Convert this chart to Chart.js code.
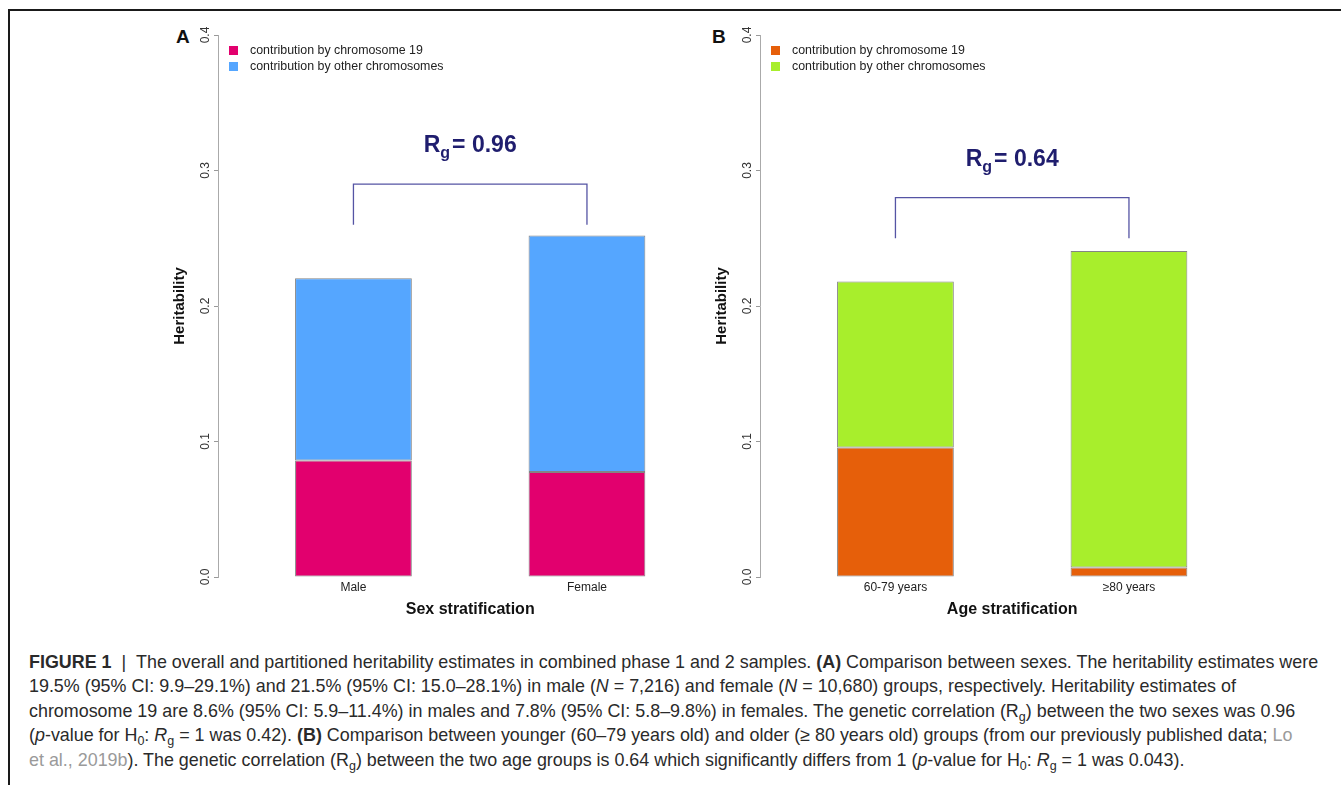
<!DOCTYPE html>
<html>
<head>
<meta charset="utf-8">
<script src="https://cdn.jsdelivr.net/npm/chart.js@4.4.0/dist/chart.umd.min.js"></script>
<style>
  body { margin: 0; background: #fff; width: 1341px; height: 785px; overflow: hidden; position: relative;
         font-family: "Liberation Sans", Arial, sans-serif; }
  #frame { position: absolute; left: 8px; top: 9px; width: 1400px; height: 800px;
           border-left: 2px solid #1a1a1a; border-top: 2px solid #1a1a1a; }
  .panel { position: absolute; top: 20px; width: 580px; height: 610px; }
  #panelA { left: 150px; }
  #panelB { left: 692px; }
  .tag { position: absolute; top: 26px; font-weight: bold; font-size: 19px; color: #111; }
  .legend { position: absolute; top: 42px; font-size: 12.4px; color: #222; line-height: 16px; }
  .legend .box { display: inline-block; width: 9px; height: 9px; margin-right: 12px; vertical-align: -1px; }
  #caption { position: absolute; left: 29px; top: 650px; font-size: 17.9px; line-height: 24.4px;
             color: #2a2a2a; white-space: nowrap; }
  #caption sub { font-size: 0.7em; line-height: 0; vertical-align: -0.3em; }
  #caption .ref { color: #9a9a9a; }
</style>
</head>
<body>
<div id="frame"></div>

<div class="tag" style="left:176px">A</div>
<div class="tag" style="left:712px">B</div>

<div class="panel" id="panelA"><canvas id="chartA"></canvas></div>
<div class="panel" id="panelB"><canvas id="chartB"></canvas></div>

<div class="legend" style="left:229px">
  <div><span class="box" style="background:#e2006e"></span>contribution by chromosome 19</div>
  <div><span class="box" style="background:#55a6ff"></span>contribution by other chromosomes</div>
</div>
<div class="legend" style="left:771px">
  <div><span class="box" style="background:#e65f0a"></span>contribution by chromosome 19</div>
  <div><span class="box" style="background:#a8ee2c"></span>contribution by other chromosomes</div>
</div>

<div id="caption">
<b>FIGURE 1</b> &nbsp;| &nbsp;The overall and partitioned heritability estimates in combined phase 1 and 2 samples. <b>(A)</b> Comparison between sexes. The heritability estimates were<br>
19.5% (95% CI: 9.9–29.1%) and 21.5% (95% CI: 15.0–28.1%) in male (<i>N</i> = 7,216) and female (<i>N</i> = 10,680) groups, respectively. Heritability estimates of<br>
chromosome 19 are 8.6% (95% CI: 5.9–11.4%) in males and 7.8% (95% CI: 5.8–9.8%) in females. The genetic correlation (R<sub>g</sub>) between the two sexes was 0.96<br>
(<i>p</i>-value for H<sub>0</sub>: <i>R</i><sub>g</sub> = 1 was 0.42). <b>(B)</b> Comparison between younger (60–79 years old) and older (≥ 80 years old) groups (from our previously published data; <span class="ref">Lo</span><br>
<span class="ref">et al., 2019b</span>). The genetic correlation (R<sub>g</sub>) between the two age groups is 0.64 which significantly differs from 1 (<i>p</i>-value for H<sub>0</sub>: <i>R</i><sub>g</sub> = 1 was 0.043).
</div>

<script>
// panel A: sex stratification
var sexGroups = ['Male', 'Female'];
var sexChr19 = [0.086, 0.0775];
var sexOther = [0.1345, 0.1745];

// panel B: age stratification
var ageGroups = ['60-79 years', '≥80 years'];
var ageChr19 = [0.0955, 0.007];
var ageOther = [0.1225, 0.2335];

var yTicks = [0, 0.1, 0.2, 0.3, 0.4];

// genetic correlation brackets
var rgValues = ['0.96', '0.64'];
var bracketTop = [0.29, 0.28];
var bracketFoot = [0.26, 0.25];

var bracketPlugin = {
    id: 'bracket',
    afterDatasetsDraw: function (chart, args, opts) {
        var x = chart.scales.x, y = chart.scales.y, ctx = chart.ctx;
        var x1 = x.getPixelForValue(1), x2 = x.getPixelForValue(2);
        var yTop = y.getPixelForValue(opts.top), yFoot = y.getPixelForValue(opts.foot);
        ctx.save();
        ctx.strokeStyle = '#5554a4';
        ctx.lineWidth = 1.3;
        ctx.beginPath();
        ctx.moveTo(x1, yFoot);
        ctx.lineTo(x1, yTop);
        ctx.lineTo(x2, yTop);
        ctx.lineTo(x2, yFoot);
        ctx.stroke();

        // R_g = value label
        var big = 'bold 23px "Liberation Sans", Arial, sans-serif';
        var small = 'bold 16px "Liberation Sans", Arial, sans-serif';
        var rest = '= ' + opts.rg;
        ctx.font = big;
        var wR = ctx.measureText('R').width, wRest = ctx.measureText(rest).width;
        ctx.font = small;
        var wg = ctx.measureText('g').width;
        var total = wR + wg + 2 + wRest;
        var cx = (x1 + x2) / 2, base = yTop - 32;
        var left = cx - total / 2;
        ctx.fillStyle = '#1f1d6e';
        ctx.textBaseline = 'alphabetic';
        ctx.textAlign = 'left';
        ctx.font = big;
        ctx.fillText('R', left, base);
        ctx.font = small;
        ctx.fillText('g', left + wR, base + 6);
        ctx.font = big;
        ctx.fillText(rest, left + wR + wg + 2, base);
        ctx.restore();
    }
};

function makePanel(id, groups, chr19, other, colChr19, colOther, xTitle, k) {
    var ctx = document.getElementById(id).getContext('2d');
    var pts = function (arr) {
        return arr.map(function (v, i) { return { x: i + 1, y: v }; });
    };
    return new Chart(ctx, {
        type: 'bar',
        data: {
            datasets: [{
                label: 'contribution by chromosome 19',
                data: pts(chr19),
                backgroundColor: colChr19,
                borderColor: 'rgba(80,80,80,0.7)',
                borderWidth: 1,
                borderSkipped: false
            }, {
                label: 'contribution by other chromosomes',
                data: pts(other),
                backgroundColor: colOther,
                borderColor: 'rgba(80,80,80,0.7)',
                borderWidth: 1,
                borderSkipped: false
            }]
        },
        options: {
            responsive: true,
            maintainAspectRatio: false,
            animation: false,
            categoryPercentage: 1,
            barPercentage: 0.5,
            layout: { padding: { left: 0, top: 15, right: 7.6, bottom: 8 } },
            plugins: {
                legend: { display: false },
                tooltip: { enabled: false },
                bracket: { rg: rgValues[k], top: bracketTop[k], foot: bracketFoot[k] }
            },
            scales: {
                x: {
                    type: 'linear',
                    stacked: true,
                    offset: false,
                    min: 0.42,
                    max: 2.58,
                    afterBuildTicks: function (s) {
                        s.ticks = groups.map(function (g, i) { return { value: i + 1 }; });
                    },
                    ticks: {
                        callback: function (v, i) { return groups[i]; },
                        autoSkip: false,
                        maxRotation: 0,
                        padding: 3,
                        color: '#222',
                        font: { size: 12, family: '"Liberation Sans", Arial, sans-serif' }
                    },
                    grid: { display: false, drawTicks: false },
                    border: { display: false },
                    title: {
                        display: true,
                        text: xTitle,
                        color: '#111',
                        font: { size: 16, weight: 'bold', family: '"Liberation Sans", Arial, sans-serif' },
                        padding: { top: 0, bottom: 3 }
                    },
                    afterFit: function (s) { s.height = 45; }
                },
                y: {
                    stacked: true,
                    min: 0,
                    max: 0.4,
                    afterBuildTicks: function (s) {
                        s.ticks = yTicks.map(function (v) { return { value: v }; });
                    },
                    ticks: {
                        callback: function (v) { return v.toFixed(1); },
                        minRotation: 90,
                        maxRotation: 90,
                        crossAlign: 'center',
                        padding: 0,
                        color: '#333',
                        font: { size: 12, family: '"Liberation Sans", Arial, sans-serif' }
                    },
                    grid: { drawOnChartArea: false, tickLength: 4, color: '#999' },
                    border: { color: '#aaa', width: 1 },
                    title: {
                        display: true,
                        text: 'Heritability',
                        color: '#111',
                        font: { size: 15, weight: 'bold', family: '"Liberation Sans", Arial, sans-serif' },
                        padding: { top: 21 }
                    },
                    afterFit: function (s) { s.width = 68; }
                }
            }
        },
        plugins: [bracketPlugin]
    });
}

makePanel('chartA', sexGroups, sexChr19, sexOther, '#e2006e', '#55a6ff', 'Sex stratification', 0);
makePanel('chartB', ageGroups, ageChr19, ageOther, '#e65f0a', '#a8ee2c', 'Age stratification', 1);
</script>
</body>
</html>
